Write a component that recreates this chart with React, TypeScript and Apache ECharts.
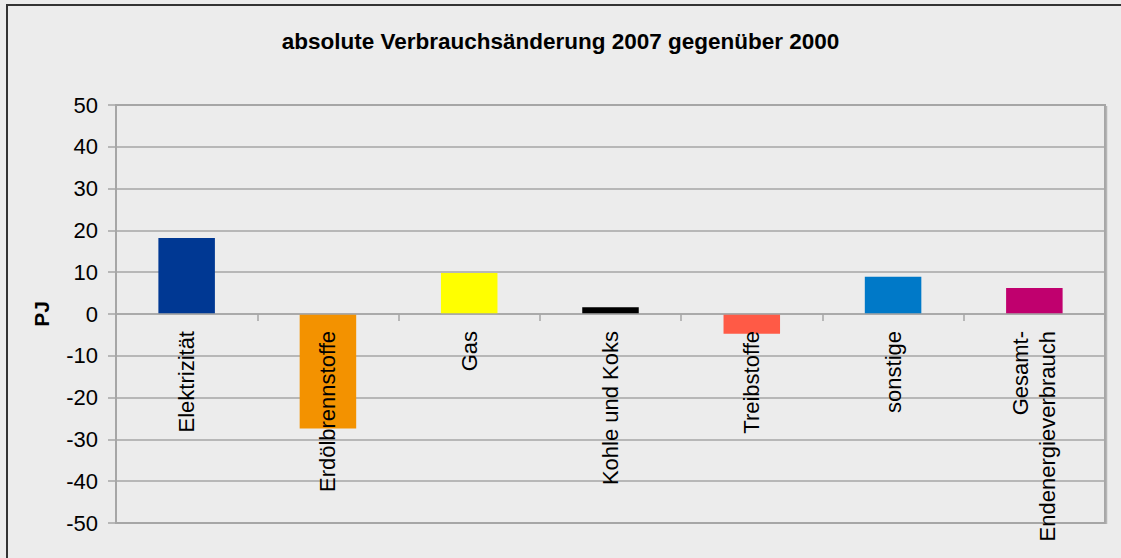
import React, { useEffect, useRef } from "react";
import * as echarts from "echarts";

const categories = [
  "Elektrizität",
  "Erdölbrennstoffe",
  "Gas",
  "Kohle und Koks",
  "Treibstoffe",
  "sonstige",
  "Gesamt-\nEndenergieverbrauch",
];
const values = [18.2, -27.4, 9.8, 1.6, -4.7, 8.9, 6.2];
const barColors = ["#003893", "#f39200", "#ffff00", "#000000", "#ff5a46", "#0079c8", "#c0006e"];
const yTicks = { min: -50, max: 50, interval: 10 };
const titleText = "absolute Verbrauchsänderung 2007 gegenüber 2000";
const yName = "PJ";

const W = 1121;
const H = 558;
const GRID = { left: 116, right: 16, top: 105, bottom: 35 };

export default function App() {
  const ref = useRef<HTMLDivElement>(null);
  useEffect(() => {
    const chart = echarts.init(ref.current!, null, { renderer: "svg" });
    const font = "'Liberation Sans', Arial, sans-serif";
    const gridH = H - GRID.top - GRID.bottom;
    const zeroOffset = -gridH * (0 - yTicks.min) / (yTicks.max - yTicks.min);
    chart.setOption({
      animation: false,
      backgroundColor: "#ececec",
      textStyle: { fontFamily: font },
      title: {
        text: titleText,
        left: "center",
        top: 25,
        textStyle: { fontFamily: font, fontSize: 22.5, fontWeight: "bold", color: "#000" },
      },
      graphic: [
        {
          type: "rect",
          shape: { x: 7, y: 5, width: 1130, height: 570 },
          style: { fill: "none", stroke: "#333", lineWidth: 2 },
          silent: true,
        },
        {
          type: "line",
          shape: { x1: 1106.5, y1: 106, x2: 1106.5, y2: 524 },
          style: { stroke: "#b5b5b5", lineWidth: 1.5 },
          silent: true,
        },
      ],
      grid: {
        ...GRID,
        outerBoundsMode: "none",
        containLabel: false,
        show: true,
        borderColor: "#a6a6a6",
        borderWidth: 2,
        backgroundColor: "transparent",
      },
      xAxis: {
        type: "category",
        data: categories,
        position: "bottom",
        offset: zeroOffset,
        z: 10,
        axisLine: { onZero: false, lineStyle: { color: "#a6a6a6", width: 1.5 } },
        axisTick: { show: true, length: 7, lineStyle: { color: "#a6a6a6", width: 1.5 } },
        axisLabel: {
          rotate: 90,
          margin: 17,
          fontSize: 22,
          color: "#000",
          fontFamily: font,
          interval: 0,
          lineHeight: 27,
        },
        splitLine: { show: false },
      },
      yAxis: {
        type: "value",
        min: yTicks.min,
        max: yTicks.max,
        interval: yTicks.interval,
        name: yName,
        nameLocation: "middle",
        nameGap: 64,
        nameRotate: 90,
        nameTextStyle: { fontFamily: font, fontSize: 21, fontWeight: "bold", color: "#000" },
        axisLine: { show: true, lineStyle: { color: "#a6a6a6", width: 2 } },
        axisTick: { show: true, length: 8, lineStyle: { color: "#a6a6a6", width: 1.5 } },
        axisLabel: { fontSize: 22, color: "#000", margin: 18, fontFamily: font },
        splitLine: { show: true, lineStyle: { color: "#a6a6a6", width: 1.5 } },
      },
      series: [
        {
          type: "bar",
          barWidth: "40%",
          z: 2,
          data: values.map((v, i) => ({ value: v, itemStyle: { color: barColors[i] } })),
        },
      ],
    });
    return () => chart.dispose();
  }, []);
  return (
    <div
      ref={ref}
      style={{ position: "fixed", left: 0, top: 0, width: W, height: H }}
    />
  );
}
